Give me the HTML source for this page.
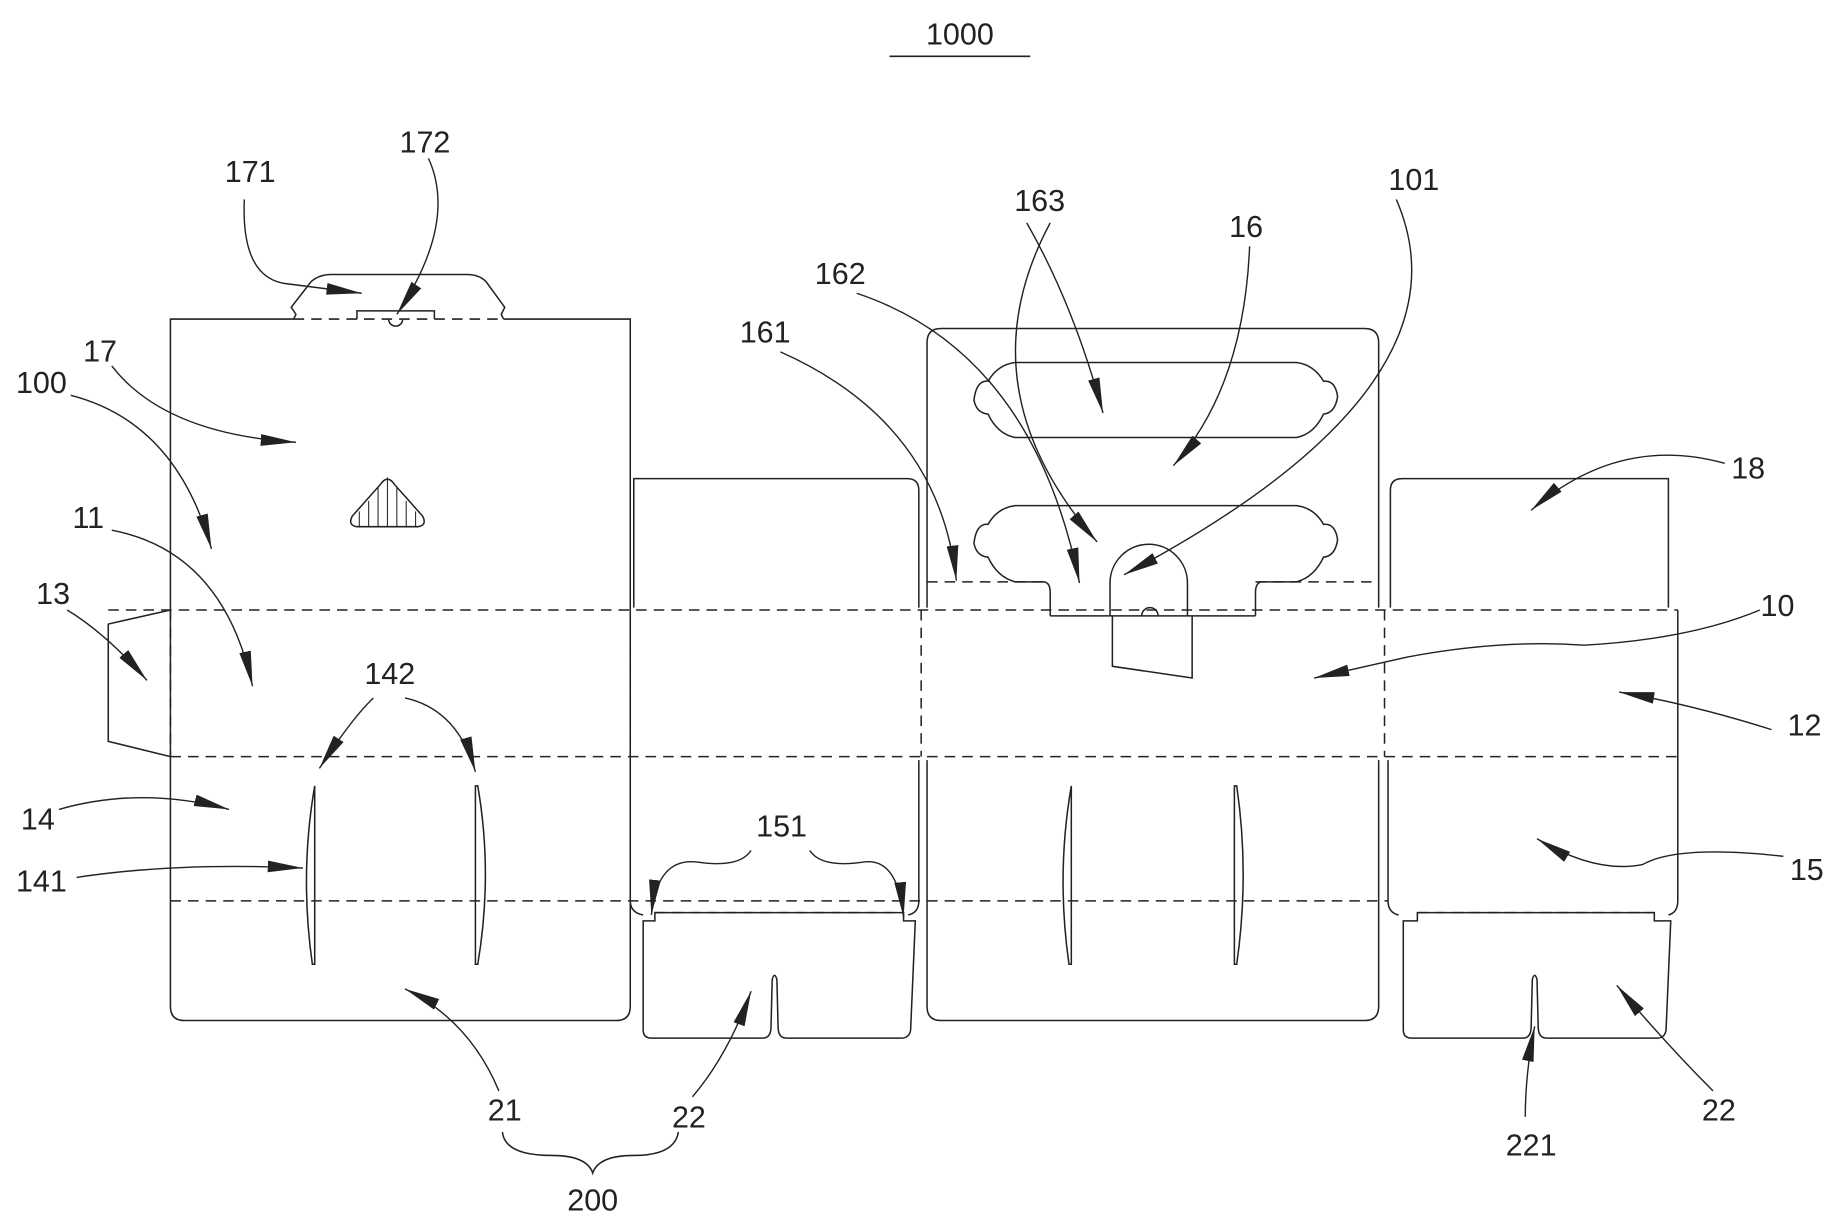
<!DOCTYPE html>
<html><head><meta charset="utf-8"><style>html,body{margin:0;padding:0;background:#fff}svg{display:block}</style></head><body>
<svg width="1840" height="1227" viewBox="0 0 1568 1046" xmlns="http://www.w3.org/2000/svg">
<defs><marker id="a" viewBox="0 0 30 10" refX="30" refY="5" markerWidth="30" markerHeight="10" markerUnits="userSpaceOnUse" orient="auto"><path d="M0,0 L30,5 L0,10 Z" fill="#222"/></marker></defs>
<g fill="none" stroke="#222" stroke-width="1.3">
<line x1="758" y1="48" x2="878" y2="48"/>
<path d="M250,272 L145,272 L145,858 Q145,870 157,870 L525,870 Q537,870 537,858 L537,272 L429,272"/>
<path d="M250,272 L252,268 L248,262 L265,240 Q272,234 282,234 L398,234 Q408,234 414,240 L430,262 L427,268 L429,272"/>
<path d="M304,272 L304,265 L370,265 L370,272"/>
<path d="M331,272 A6,6 0 0 0 343,272"/>
<path d="M324,413 Q330,404 336,413 L360,440 Q364,448 356,449 L304,449 Q296,448 300,440 Z"/>
<g stroke-width="0.9"><line x1="306" y1="436" x2="306" y2="449"/><line x1="314" y1="427" x2="314" y2="449"/><line x1="322" y1="416" x2="322" y2="449"/><line x1="330" y1="407" x2="330" y2="449"/><line x1="338" y1="416" x2="338" y2="449"/><line x1="346" y1="427" x2="346" y2="449"/><line x1="354" y1="436" x2="354" y2="449"/></g>
<path d="M145,520 L92,532 L92,632 L145,645"/>
<g stroke-dasharray="9,6">
<line x1="92" y1="520" x2="1430" y2="520"/>
<line x1="145" y1="645" x2="1430" y2="645"/>
<line x1="145" y1="768" x2="1183" y2="768"/>
<line x1="145" y1="520" x2="145" y2="645"/>
<line x1="537" y1="520" x2="537" y2="645"/>
<line x1="785" y1="520" x2="785" y2="645"/>
<line x1="1180" y1="520" x2="1180" y2="645"/>
<line x1="250" y1="272" x2="429" y2="272"/>
<line x1="558" y1="778" x2="770" y2="778"/>
<line x1="1208" y1="778" x2="1410" y2="778"/>
<line x1="790" y1="496" x2="895" y2="496"/>
<line x1="1070" y1="496" x2="1175" y2="496"/>
</g>
<path d="M540,518 L540,408 L773,408 Q783,408 783,418 L783,518"/>
<path d="M537,648 L537,768 Q537,778 548,780"/>
<path d="M783,648 L783,768 Q783,778 774,780"/>
<path d="M548,785 L558,785 L558,778 L770,778 L770,785 L780,785 L776,878 Q775,885 768,885 L670,885 Q663,885 663,875 L662,835 Q660,828 658,835 L657,875 Q657,885 650,885 L555,885 Q548,885 548,878 Z"/>
<path d="M790,518 L790,292 Q790,280 802,280 L1163,280 Q1175,280 1175,292 L1175,518"/>
<path d="M790,648 L790,858 Q790,870 802,870 L1163,870 Q1175,870 1175,858 L1175,648"/>
<path d="M865,309 L1105,309 Q1120,311 1128,325 Q1138,324 1140,338 Q1138,352 1128,353 Q1120,370 1105,373 L865,373 Q850,370 842,353 Q832,352 830,341 Q832,324 842,325 Q850,311 865,309 Z"/>
<path d="M895,525 L895,505 Q895,497 890,496 L865,496 Q850,492 842,475 Q832,474 830,463 Q832,446 842,447 Q850,433 865,431 L1105,431 Q1120,433 1128,447 Q1138,446 1140,460 Q1138,474 1128,475 Q1120,492 1105,496 L1075,496 Q1070,497 1070,505 L1070,525"/>
<line x1="895" y1="525" x2="1070" y2="525"/>
<path d="M946,525 L946,497 A33,33 0 0 1 1012,497 L1012,525"/>
<path d="M973,525 A7,7 0 0 1 987,525" />
<path d="M948,525 L948,568 L1016,578 L1016,525"/>
<path d="M1185,518 L1185,418 Q1185,408 1195,408 L1422,408 L1422,518"/>
<path d="M1430,520 L1430,768 Q1430,778 1422,780"/>
<path d="M1183,648 L1183,768 Q1183,778 1192,780"/>
<path d="M1196,785 L1208,785 L1208,778 L1410,778 L1410,785 L1424,785 L1420,878 Q1419,885 1412,885 L1318,885 Q1311,885 1311,875 L1310,835 Q1308,828 1306,835 L1305,875 Q1305,885 1298,885 L1203,885 Q1196,885 1196,878 Z"/>
<path d="M268,670 Q255,745 266,822 L268,822 L268,670 Z"/>
<path d="M405,670 L405,822 L407,822 Q420,745 407,670 Z"/>
<path d="M913,670 Q900,745 911,822 L913,822 Z"/>
<path d="M1052,670 L1052,822 L1054,822 Q1065,745 1054,670 Z"/>
<path d="M428,965 Q430,985 470,985 Q500,985 505,1000 Q510,985 540,985 Q575,985 578,965"/>
</g>
<g fill="none" stroke="#222" stroke-width="1.2" marker-end="url(#a)">
<path d="M208,170 Q205,238 245,242 L308,250"/>
<path d="M365,135 Q390,190 338,268"/>
<path d="M95,312 Q140,370 252,377"/>
<path d="M60,337 Q150,360 180,468"/>
<path d="M95,452 Q190,470 215,585"/>
<path d="M57,520 Q90,540 125,580"/>
<path d="M318,595 Q300,612 272,655"/>
<path d="M345,595 Q390,605 405,658"/>
<path d="M50,690 Q120,670 195,690"/>
<path d="M65,748 Q150,735 258,740"/>
<path d="M425,930 Q400,870 345,843"/>
<path d="M590,935 Q620,900 640,845"/>
<path d="M665,300 Q800,360 815,495"/>
<path d="M730,250 Q880,300 920,497"/>
<path d="M875,190 Q915,260 940,352"/>
<path d="M895,190 Q820,330 935,462"/>
<path d="M1065,210 Q1060,330 1000,397"/>
<path d="M1190,170 Q1260,330 958,490"/>
<path d="M1470,395 Q1380,370 1305,435"/>
<path d="M1500,520 Q1440,545 1350,550 Q1280,545 1200,560 L1120,578"/>
<path d="M1510,622 Q1440,600 1380,590"/>
<path d="M1520,730 Q1430,720 1400,737 Q1360,745 1310,715"/>
<path d="M640,725 Q630,740 595,735 Q560,730 555,780"/>
<path d="M690,725 Q700,740 735,735 Q765,730 770,782"/>
<path d="M1460,930 Q1420,890 1378,840"/>
<path d="M1300,952 Q1300,915 1308,875"/>
</g>
<g font-family="Liberation Sans, sans-serif" font-size="26" fill="#222" text-anchor="middle">
<text x="818" y="38">1000</text>
<text x="213" y="155">171</text>
<text x="362" y="130">172</text>
<text x="85" y="308">17</text>
<text x="35" y="335">100</text>
<text x="75" y="450">11</text>
<text x="45" y="515">13</text>
<text x="332" y="583">142</text>
<text x="32" y="707">14</text>
<text x="35" y="760">141</text>
<text x="430" y="955">21</text>
<text x="587" y="961">22</text>
<text x="505" y="1032">200</text>
<text x="652" y="292">161</text>
<text x="716" y="242">162</text>
<text x="886" y="180">163</text>
<text x="1062" y="202">16</text>
<text x="1205" y="162">101</text>
<text x="1490" y="408">18</text>
<text x="1515" y="525">10</text>
<text x="1538" y="627">12</text>
<text x="1540" y="750">15</text>
<text x="666" y="713">151</text>
<text x="1465" y="955">22</text>
<text x="1305" y="985">221</text>
</g>
</svg>
</body></html>
